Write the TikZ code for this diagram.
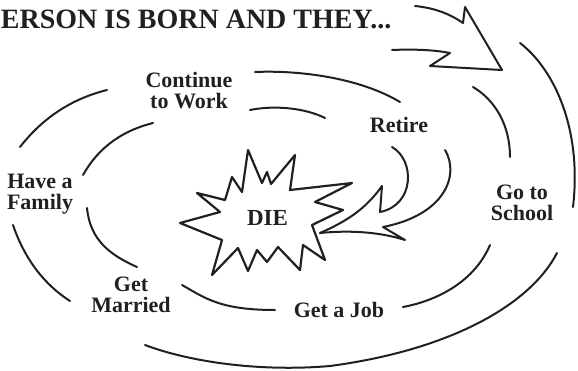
\documentclass[tikz,border=0pt]{standalone}
\usepackage{fontspec}
\setmainfont{Liberation Serif}
\usepackage{tikz}
\definecolor{ink}{RGB}{35,31,32}

\begin{document}
\begin{tikzpicture}[x=1pt, y=-1pt, color=ink, line width=2pt, line cap=round, line join=round,
    stage/.style={font=\fontsize{22}{21}\selectfont\bfseries, align=center, inner sep=0pt}]

    \useasboundingbox (0,0) rectangle (578,370);

    % the stages
    \node[anchor=base west, inner sep=0pt, font=\fontsize{28}{30}\selectfont\bfseries] (born) at (0,28) {ERSON IS BORN AND THEY...};
    \node[stage] (school) at (522,203) {Go to\\School};
    \node[stage, anchor=base] (job) at (339,317) {Get a Job};
    \node[stage] (married) at (131,295) {Get\\Married};
    \node[stage] (family) at (40,194) {Have a\\Family};
    \node[stage] (cont) at (189,91) {Continue\\to Work};
    \node[stage, anchor=base] (retire) at (399,132) {Retire};
    \node[stage, anchor=base, font=\fontsize{23}{23}\selectfont\bfseries] (die) at (267.5,225) {DIE};

    % outer line of the spiral
    \draw (415,6) .. controls (435,8) and (450,14) .. (463,23) -- (465,7) -- (502,70);
    \draw (520,43) .. controls (555,70) and (582,130) .. (573,207);
    \draw (557,253) .. controls (530,305) and (450,350) .. (330,366)
        .. controls (260,372) and (190,362) .. (145,345);
    \draw (70,301) .. controls (45,285) and (25,260) .. (13,225);
    \draw (20,147) .. controls (45,115) and (75,98) .. (107,90);
    \draw (255,72) .. controls (300,70) and (360,78) .. (400,102);
    \draw (445,150) .. controls (460,175) and (445,215) .. (383,227) -- (405,240)
        .. controls (380,232) and (350,230) .. (320,233);

    % inner line of the spiral
    \draw (392,50) .. controls (415,49) and (435,50) .. (450,53) -- (430,66) -- (502,70);
    \draw (473,87) .. controls (495,100) and (510,125) .. (510,157);
    \draw (490,245) .. controls (475,280) and (440,300) .. (403,307);
    \draw (275,310) .. controls (220,310) and (205,298) .. (182,285);
    \draw (137,267) .. controls (110,255) and (90,240) .. (87,208);
    \draw (83,175) .. controls (100,145) and (125,130) .. (153,123);
    \draw (250,110) .. controls (275,105) and (305,108) .. (325,118);
    \draw (392,147) .. controls (415,160) and (415,205) .. (380,212) -- (382,186)
        .. controls (365,210) and (345,222) .. (320,233);

    % the burst round DIE
    \draw[line width=2.2pt] (197,193) -- (225,200) -- (232,177) -- (242,192) -- (248,150)
        -- (262,183) -- (267,172) -- (271,184) -- (295,155) -- (290,190)
        -- (352,183) -- (315,202) -- (343,210) -- (312,225) -- (325,260)
        -- (303,245) -- (300,270) -- (278,247) -- (267,262) -- (257,250)
        -- (248,271) -- (238,248) -- (212,275) -- (222,240) -- (180,223)
        -- (220,212) -- cycle;

\end{tikzpicture}
\end{document}
